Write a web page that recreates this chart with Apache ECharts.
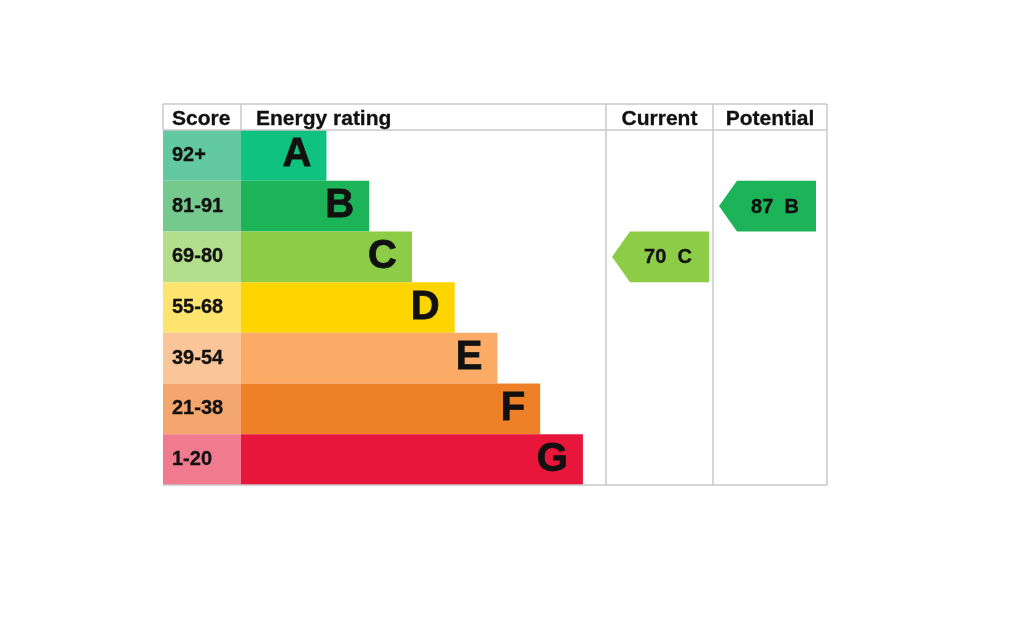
<!DOCTYPE html>
<html><head><meta charset="utf-8">
<script src="https://cdn.jsdelivr.net/npm/echarts@6/dist/echarts.min.js"></script>
<style>html,body{margin:0;padding:0;background:#fff}#c{width:1024px;height:643px}</style>
</head><body><div id="c"></div>
<script>
var bands = ['A','B','C','D','E','F','G'];
var scoreRanges = ['92+','81-91','69-80','55-68','39-54','21-38','1-20'];
var barLengths = [2,3,4,5,6,7,8];
var bandColors = ['#0fc27f','#1db359','#8dcc46','#ffd500','#fbab65','#ee8128','#e8163b'];
var scoreColors = ['#63c9a3','#76c98c','#b3df8c','#fde46e','#fbc59a','#f3a66d','#f07b8f'];
var headers = ['Score','Energy rating','Current','Potential'];
var currentRating = {score:70, band:'C'};
var potentialRating = {score:87, band:'B'};

var FONT = 'Arial, "Liberation Sans", sans-serif';
var LINE = '#c8c8c8';
var T = 104, H = 130, B = 485;
var cols = [163, 241, 606, 713, 827];

function arrowItem(params, api) {
  var cat = api.value(0);
  var c = api.coord([0, cat]);
  var bh = api.size([0, 1])[1];
  var cs = params.coordSys;
  var tip = cs.x + 6, w = 97, d = 18;
  var top = c[1] - bh / 2, bot = c[1] + bh / 2;
  var idx = api.value(0);
  return {
    type: 'group',
    children: [{
      type: 'polygon',
      shape: {points: [[tip, c[1]], [tip + d, top], [tip + w, top], [tip + w, bot], [tip + d, bot]]},
      style: {fill: bandColors[idx]}
    }, {
      type: 'text',
      style: {
        text: api.value(1) + '  ' + bands[idx],
        x: tip + 56, y: c[1] + 1, align: 'center', verticalAlign: 'middle',
        font: 'bold 20px ' + FONT, fill: '#111', stroke: '#111', lineWidth: 0.3
      }
    }]
  };
}

function catAxis(i) {
  return {type: 'category', data: bands, gridIndex: i, inverse: true, show: false};
}
function valAxis(i, max) {
  return {type: 'value', gridIndex: i, min: 0, max: max, show: false};
}

var graphics = [];
function line(x1, y1, x2, y2) {
  graphics.push({type: 'line', shape: {x1: x1, y1: y1, x2: x2, y2: y2},
    style: {stroke: LINE, lineWidth: 1.5}, z: 10});
}
line(cols[0], T, cols[4], T);
line(cols[0], H, cols[4], H);
line(cols[0], B, cols[4], B);
line(cols[0], T, cols[0], H);
line(cols[1], T, cols[1], H);
line(cols[2], T, cols[2], B);
line(cols[3], T, cols[3], B);
line(cols[4], T, cols[4], B);
var hx = [[cols[0] + 9, 'left'], [cols[1] + 15, 'left'], [(cols[2] + cols[3]) / 2, 'center'], [(cols[3] + cols[4]) / 2, 'center']];
headers.forEach(function (h, i) {
  graphics.push({type: 'text', z: 11, style: {text: h, x: hx[i][0], y: (T + H) / 2 + 2,
    align: hx[i][1], verticalAlign: 'middle', font: 'bold 21px ' + FONT, fill: '#111',
    stroke: '#111', lineWidth: 0.3}});
});

var option = {
  animation: false,
  grid: [
    {left: cols[0], top: H, width: cols[1] - cols[0], height: B - H},
    {left: cols[1], top: H, width: cols[2] - cols[1], height: B - H},
    {left: cols[2], top: H, width: cols[3] - cols[2], height: B - H},
    {left: cols[3], top: H, width: cols[4] - cols[3], height: B - H}
  ],
  xAxis: [valAxis(0, 1), valAxis(1, 8.54), valAxis(2, 1), valAxis(3, 1)],
  yAxis: [catAxis(0), catAxis(1), catAxis(2), catAxis(3)],
  graphic: graphics,
  series: [
    {
      type: 'bar', xAxisIndex: 0, yAxisIndex: 0, barWidth: '100%',
      data: scoreRanges.map(function (s, i) {
        return {value: 1, itemStyle: {color: scoreColors[i]}, label: {formatter: s}};
      }),
      label: {show: true, position: 'insideLeft', distance: 9, color: '#111',
        fontFamily: FONT, fontWeight: 'bold', fontSize: 20,
        textBorderColor: '#111', textBorderWidth: 0.3}
    },
    {
      type: 'bar', xAxisIndex: 1, yAxisIndex: 1, barWidth: '100%',
      data: barLengths.map(function (v, i) {
        return {value: v, itemStyle: {color: bandColors[i]}};
      }),
      label: {show: true, position: 'insideRight', distance: 15, color: '#111',
        fontFamily: FONT, fontWeight: 'bold', fontSize: 40,
        textBorderColor: '#111', textBorderWidth: 0.8,
        formatter: function (p) { return bands[p.dataIndex]; }}
    },
    {
      type: 'custom', xAxisIndex: 2, yAxisIndex: 2, renderItem: arrowItem,
      data: [[bands.indexOf(currentRating.band), currentRating.score]]
    },
    {
      type: 'custom', xAxisIndex: 3, yAxisIndex: 3, renderItem: arrowItem,
      data: [[bands.indexOf(potentialRating.band), potentialRating.score]]
    }
  ]
};
var chart = echarts.init(document.getElementById('c'));
chart.setOption(option);
</script></body></html>
